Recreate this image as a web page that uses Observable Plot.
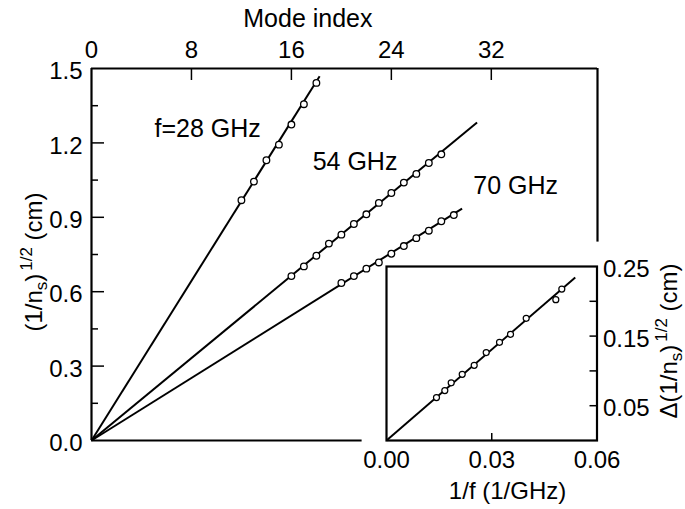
<!DOCTYPE html>
<html><head><meta charset="utf-8">
<script src="https://cdn.jsdelivr.net/npm/d3@7"></script>
<script src="https://cdn.jsdelivr.net/npm/@observablehq/plot@0.6"></script>
<style>
body{margin:0;background:#fff;}
#wrap{position:relative;width:685px;height:509px;font-family:"Liberation Sans",Arial,sans-serif;}
#wrap svg{position:absolute;left:0;top:0;}
</style></head><body><div id="wrap"></div>
<script>
// ---- data ----
const modes28 = [12, 13, 14, 15, 16, 17, 18];
const vals28  = [0.969, 1.044, 1.130, 1.193, 1.274, 1.356, 1.442];
const modes54 = [16, 17, 18, 19, 20, 21, 22, 23, 24, 25, 26, 27, 28];
const vals54  = [0.663, 0.702, 0.745, 0.794, 0.830, 0.873, 0.912, 0.958, 0.998, 1.040, 1.075, 1.119, 1.154];
const modes70 = [20, 21, 22, 23, 24, 25, 26, 27, 28, 29];
const vals70  = [0.635, 0.663, 0.693, 0.718, 0.753, 0.784, 0.816, 0.846, 0.884, 0.909];
const seriesLabels = ["f=28 GHz", "54 GHz", "70 GHz"];
const fitEndMode  = [18.26, 30.86, 29.66];
const fitEndValue = [1.469, 1.282, 0.935];
const labelMode  = [5.04, 17.7, 30.56];
const labelValue = [1.258, 1.122, 1.025];
const modeTicks = [0, 8, 16, 24, 32];
const yTicks = [0, 0.3, 0.6, 0.9, 1.2, 1.5];
const yMinorTicks = [0.15, 0.45, 0.75, 1.05, 1.35];

const invFreq   = [0.01425, 0.01662, 0.01844, 0.02158, 0.0250, 0.02842, 0.03221, 0.03535, 0.03982, 0.04826, 0.04997];
const deltaVals = [0.0617, 0.0717, 0.0828, 0.0951, 0.1080, 0.1263, 0.1410, 0.1525, 0.1755, 0.2023, 0.2176];
const insetFitEnd = [0.0538, 0.2343];
const insetXTicks = [0, 0.03, 0.06];
const insetXMinor = [0.03];
const insetYTicks = [0.05, 0.15, 0.25];
const insetYMinor = [0.05, 0.1, 0.15, 0.2];

// ---- layout ----
const W = 685, H = 509;
const FONT = "Liberation Sans, Arial, sans-serif";
const FS = 24;
const FL = 25;
const mL = 91, mR = 88, mT = 68, mB = 69;
const frameW = W - mL - mR, frameH = H - mT - mB;

const pts = [];
modes28.forEach((m, i) => pts.push({m, v: vals28[i]}));
modes54.forEach((m, i) => pts.push({m, v: vals54[i]}));
modes70.forEach((m, i) => pts.push({m, v: vals70[i]}));
const idx3 = [0, 1, 2];

const main = Plot.plot({
  width: W, height: H,
  marginLeft: mL, marginRight: mR, marginTop: mT, marginBottom: mB,
  style: {fontFamily: FONT, fontSize: FS + "px", background: "transparent", color: "#000"},
  x: {domain: [0, 40.5]},
  y: {domain: [0, 1.5]},
  marks: [
    Plot.axisX(modeTicks, {anchor: "top", tickSize: 0, tickPadding: 11, label: null, fontSize: FS}),
    Plot.axisY(yTicks, {anchor: "left", tickSize: 0, tickPadding: 9, label: null, fontSize: FS, dy: 3,
      tickFormat: d => d.toFixed(1)}),
    Plot.tickX(modeTicks.filter(d => d > 0), {x: d => d, insetBottom: frameH - 12, strokeWidth: 1.5}),
    Plot.tickY(yTicks.filter(d => d > 0 && d < 1.5), {y: d => d, insetRight: frameW - 13, strokeWidth: 1.5}),
    Plot.tickY(yMinorTicks, {y: d => d, insetRight: frameW - 7, strokeWidth: 1.5}),
    Plot.ruleX([0], {strokeWidth: 2.2}),
    Plot.ruleY([1.5], {strokeWidth: 2.2}),
    Plot.ruleX([40.5], {y1: 0.8, y2: 1.5, strokeWidth: 2.2}),
    Plot.ruleY([0], {x1: 0, x2: 21.66, strokeWidth: 2.2}),
    Plot.link(idx3, {x1: 0, y1: 0, x2: i => fitEndMode[i], y2: i => fitEndValue[i], strokeWidth: 2}),
    Plot.dot(pts, {x: "m", y: "v", r: 3.3, fill: "white", stroke: "black", strokeWidth: 1.3}),
    Plot.text(idx3, {x: i => labelMode[i], y: i => labelValue[i], text: i => seriesLabels[i],
      textAnchor: "start", fontSize: FL}),
    Plot.text(["Mode index"], {x: 17.32, y: 1.668, textAnchor: "middle", lineAnchor: "bottom", fontSize: FL})
  ]
});

const insetL = 386, insetR = 88.5, insetT = 266, insetB = 69;
const iW = W - insetL - insetR, iH = H - insetT - insetB;
const inset = Plot.plot({
  width: W, height: H,
  marginLeft: insetL, marginRight: insetR, marginTop: insetT, marginBottom: insetB,
  style: {fontFamily: FONT, fontSize: FS + "px", background: "transparent", color: "#000"},
  x: {domain: [0, 0.06]},
  y: {domain: [0, 0.25]},
  marks: [
    Plot.frame({strokeWidth: 2.2}),
    Plot.axisX(insetXTicks, {anchor: "bottom", tickSize: 0, tickPadding: 10, label: null, fontSize: FS,
      tickFormat: d => d.toFixed(2)}),
    Plot.axisY(insetYTicks, {anchor: "right", tickSize: 0, tickPadding: 6, label: null, fontSize: FS, dy: 3,
      tickFormat: d => d.toFixed(2)}),
    Plot.tickX(insetXMinor, {x: d => d, insetTop: iH - 7, strokeWidth: 1.5}),
    Plot.tickY(insetYMinor, {y: d => d, insetLeft: iW - 7, strokeWidth: 1.5}),
    Plot.link([0], {x1: 0, y1: 0, x2: insetFitEnd[0], y2: insetFitEnd[1], strokeWidth: 2}),
    Plot.dot(invFreq.map((f, i) => ({f, d: deltaVals[i]})), {x: "f", y: "d", r: 3, fill: "white", stroke: "black", strokeWidth: 1.2}),
    Plot.text(["1/f (1/GHz)"], {x: 0.0345, y: -0.073, textAnchor: "middle", fontSize: FS})
  ]
});

const wrap = document.getElementById("wrap");
wrap.appendChild(main);
wrap.appendChild(inset);

function richLabel(svg, x, y, prefix) {
  const t = d3.select(svg).append("text")
    .attr("transform", `translate(${x},${y}) rotate(-90)`)
    .attr("text-anchor", "middle")
    .attr("font-family", FONT)
    .attr("font-size", FS)
    .attr("fill", "black");
  t.append("tspan").text(prefix + "(1/n");
  t.append("tspan").attr("font-size", 17).attr("dy", 5).text("s");
  t.append("tspan").attr("dy", -5).text(")");
  t.append("tspan").attr("font-size", 17).attr("dy", -10).attr("dx", 3).text("1/2");
  t.append("tspan").attr("dy", 10).text(" (cm)");
}
richLabel(main, 42, 262, "");
richLabel(inset, 677, 341, "\u0394");
</script></body></html>
